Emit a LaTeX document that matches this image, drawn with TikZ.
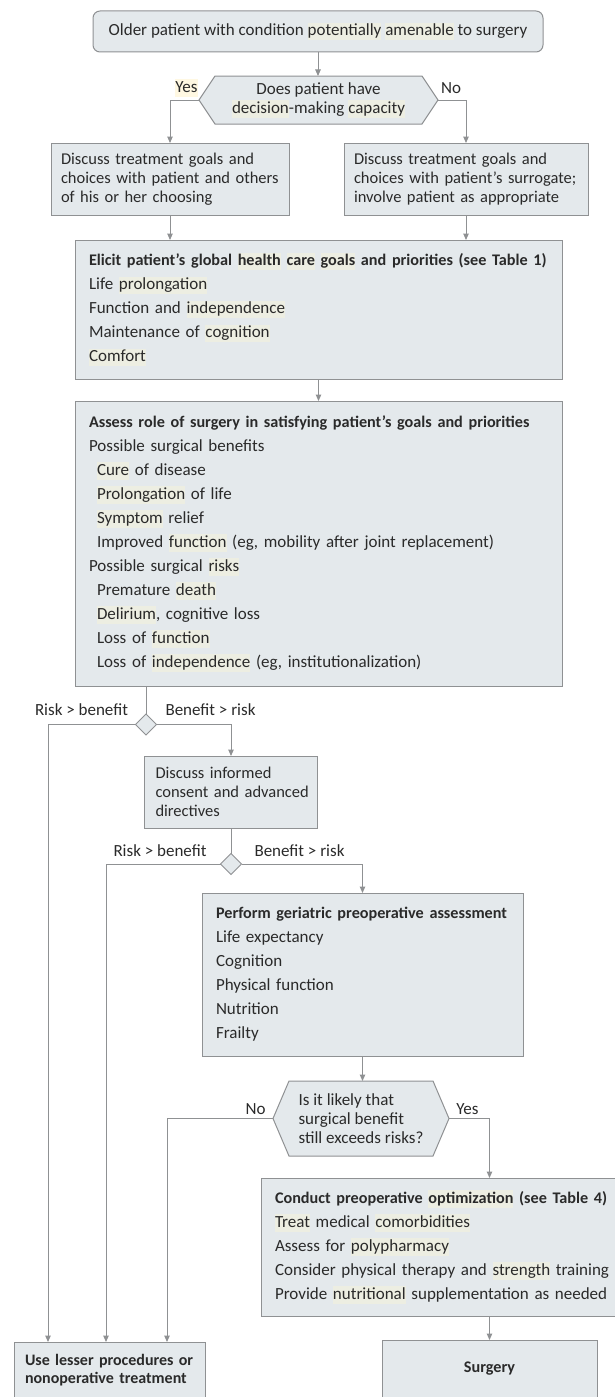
\documentclass[tikz,border=0pt]{standalone}
\usepackage{fontspec}
\setmainfont{Carlito}
\usetikzlibrary{shapes.geometric,arrows.meta,calc,backgrounds}
\definecolor{boxfill}{HTML}{E4E9EC}
\definecolor{edgegray}{HTML}{8F9193}
\definecolor{ink}{HTML}{2A2A2A}
\definecolor{hlc}{HTML}{EDEEE2}
\definecolor{hly}{HTML}{FFF8E2}
\newcommand\hl[1]{{\fboxsep=0pt\colorbox{hlc}{\rule[-4.5pt]{0pt}{17.5pt}#1}}}
\newcommand\hly[1]{{\fboxsep=0pt\colorbox{hly}{\rule[-4.5pt]{0pt}{17.5pt}#1}}}
\newcommand\ind{\hspace*{8pt}}
\newcommand\m[1]{\mbox{#1}}
\newcommand\hd[1]{\mbox{\fontsize{16.2}{24}\selectfont\bfseries #1}}
\begin{document}
\begin{tikzpicture}[x=1pt,y=-1pt,
  font=\fontsize{17}{24}\selectfont, text=ink,
  box/.style={draw=edgegray, fill=boxfill, line width=1pt, anchor=north west,
    align=left, inner ysep=0pt, outer sep=0pt},
  para/.style={font=\fontsize{16.5}{19}\selectfont},
  conn/.style={draw=edgegray, line width=1pt},
  arr/.style={conn, -{Triangle[length=6.5pt,width=5.5pt]}},
  lbl/.style={inner sep=0pt, outer sep=0pt},
  dia/.style={diamond, draw=edgegray, fill=boxfill, line width=1pt,
    minimum width=21pt, minimum height=21pt, inner sep=0pt, outer sep=0pt},
]
\useasboundingbox (0,0) rectangle (615,1397);
\clip (0,0) rectangle (615,1397);

% --- nodes ---
\node[box, anchor=center, rounded corners=7pt, minimum width=450, minimum height=41, align=center]
  (top) at (318,31.5) {Older patient with condition \hl{potentially} \hl{amenable} to surgery};

\node[lbl, align=center, font=\fontsize{17}{19}\selectfont, minimum width=207, minimum height=48] (q1) at (318.5,100)
  {Does patient have\\\hl{decision}-making \hl{capacity}};
\coordinate (q1w) at ($(q1.west)+(-16,0)$);
\coordinate (q1e) at ($(q1.east)+(16,0)$);
\begin{scope}[on background layer]
\draw[conn, fill=boxfill] (q1.north west) -- (q1.north east) -- (q1e) -- (q1.south east)
  -- (q1.south west) -- (q1w) -- cycle;
\end{scope}
\node[lbl] (yes1) at (186.5,88) {\hly{Yes}};
\node[lbl] (no1) at (451,88) {No};

\node[box, para, inner xsep=10pt, text width=218, minimum height=72] (left) at (51,143)
  {\m{Discuss treatment goals and}\\\m{choices with patient and others}\\\m{of his or her choosing}};
\node[box, para, inner xsep=10pt, text width=224, minimum height=72] (right) at (344,143)
  {\m{Discuss treatment goals and}\\\m{choices with patient’s surrogate;}\\\m{involve patient as appropriate}};

\node[box, inner xsep=14pt, text width=459, minimum height=139] (elicit) at (75,240)
  {\hd{Elicit patient’s global \hl{health} \hl{care} \hl{goals} and priorities (see Table 1)}\\
   Life \hl{prolongation}\\
   Function and \hl{independence}\\
   Maintenance of \hl{cognition}\\
   \hl{Comfort}};

\node[box, inner xsep=14pt, text width=459, minimum height=285] (assess) at (75,401)
  {\hd{Assess role of surgery in satisfying patient’s goals and priorities}\\
   Possible surgical benefits\\
   \ind\hl{Cure} of disease\\
   \ind\hl{Prolongation} of life\\
   \ind\hl{Symptom} relief\\
   \ind\m{Improved \hl{function} (eg, mobility after joint replacement)}\\
   Possible surgical \hl{risks}\\
   \ind Premature \hl{death}\\
   \ind\hl{Delirium}, cognitive loss\\
   \ind Loss of \hl{function}\\
   \ind\m{Loss of \hl{independence} (eg, institutionalization)}};

\node[dia] (d1) at (146,724.5) {};
\node[lbl] (rb1) at (81.5,710) {Risk > benefit};
\node[lbl] (br1) at (210.5,710) {Benefit > risk};

\node[box, para, inner xsep=11pt, text width=151, minimum height=72] (inform) at (144.5,756)
  {\m{Discuss informed}\\\m{consent and advanced}\\\m{directives}};

\node[dia] (d2) at (231,864) {};
\node[lbl] (rb2) at (160,851) {Risk > benefit};
\node[lbl] (br2) at (299.5,851) {Benefit > risk};

\node[box, inner xsep=14pt, text width=293, minimum height=163] (perform) at (202,893)
  {\hd{Perform geriatric preoperative assessment}\\
   Life expectancy\\
   Cognition\\
   Physical function\\
   Nutrition\\
   Frailty};

\node[lbl, align=left, font=\fontsize{17}{19}\selectfont, minimum width=144, minimum height=75]
  (q2) at (361,1118.5) {Is it likely that\\surgical benefit\\still exceeds risks?};
\coordinate (q2w) at ($(q2.west)+(-16,0)$);
\coordinate (q2e) at ($(q2.east)+(16,0)$);
\begin{scope}[on background layer]
\draw[conn, fill=boxfill] (q2.north west) -- (q2.north east) -- (q2e) -- (q2.south east)
  -- (q2.south west) -- (q2w) -- cycle;
\end{scope}
\node[lbl] (no2) at (255.5,1109) {No};
\node[lbl] (yes2) at (467.5,1109) {Yes};

\node[box, inner xsep=14pt, text width=335, minimum height=138] (conduct) at (261,1178)
  {\hd{Conduct preoperative \hl{optimization} (see Table 4)}\\
   \hl{Treat} medical \hl{comorbidities}\\
   Assess for \hl{polypharmacy}\\
   \m{Consider physical therapy and \hl{strength} training}\\
   \m{Provide \hl{nutritional} supplementation as needed}};

\node[box, inner xsep=11pt, text width=169, minimum height=56,
  font=\fontsize{16}{18}\selectfont\bfseries] (lesser) at (14,1342)
  {\m{Use lesser procedures or}\\\m{nonoperative treatment}};
\node[box, align=center, inner xsep=0pt, text width=215, minimum height=58,
  font=\fontsize{16.2}{18}\selectfont\bfseries] (surgery) at (382,1340) {Surgery};

% --- connectors ---
\draw[arr] (top.south) -- (top.south |- q1.north);
\draw[arr] (q1w) -| (left.north);
\draw[arr] (q1e) -| (right.north);
\draw[arr] (left.south) -- (left.south |- elicit.north);
\draw[arr] (right.south) -- (right.south |- elicit.north);
\draw[arr] (elicit.south) -- (elicit.south |- assess.north);
\draw[conn] (d1.north |- assess.south) -- (d1.north);
\draw[arr] (d1.west) -| ([xshift=34pt]lesser.north west);
\draw[arr] (d1.east) -| (inform.north);
\draw[conn] (inform.south) -- (d2.north);
\draw[arr] (d2.west) -| ([xshift=92pt]lesser.north west);
\draw[arr] (d2.east) -| (perform.north);
\draw[arr] (perform.south) -- (perform.south |- q2.north);
\draw[arr] (q2w) -| ([xshift=153pt]lesser.north west);
\draw[arr] (q2e) -| (surgery.north |- conduct.north);
\draw[arr] (surgery.north |- conduct.south) -- (surgery.north);
\end{tikzpicture}
\end{document}
